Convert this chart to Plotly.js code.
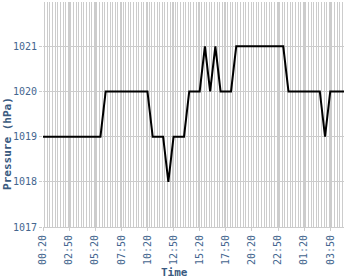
<!DOCTYPE html>
<html>
<head>
<meta charset="utf-8">
<script src="https://cdn.plot.ly/plotly-3.0.1.min.js"></script>
<style>
html,body{margin:0;padding:0;background:#fff;}
#chart{width:350px;height:280px;}
</style>
</head>
<body>
<div id="chart"></div>
<script>
// Half-hourly readings, 00:20 day 1 through 05:20 day 2
const times = [
 "00:20","00:50","01:20","01:50","02:20","02:50","03:20","03:50","04:20","04:50",
 "05:20","05:50","06:20","06:50","07:20","07:50","08:20","08:50","09:20","09:50",
 "10:20","10:50","11:20","11:50","12:20","12:50","13:20","13:50","14:20","14:50",
 "15:20","15:50","16:20","16:50","17:20","17:50","18:20","18:50","19:20","19:50",
 "20:20","20:50","21:20","21:50","22:20","22:50","23:20","23:50","00:20","00:50",
 "01:20","01:50","02:20","02:50","03:20","03:50","04:20","04:50","05:20"
];
const pressure = [
 1019,1019,1019,1019,1019,1019,1019,1019,1019,1019,
 1019,1019,1020,1020,1020,1020,1020,1020,1020,1020,
 1020,1019,1019,1019,1018,1019,1019,1019,1020,1020,
 1020,1021,1020,1021,1020,1020,1020,1021,1021,1021,
 1021,1021,1021,1021,1021,1021,1021,1020,1020,1020,
 1020,1020,1020,1020,1019,1020,1020,1020,1020
];
const xTitle = "Time";
const yTitle = "Pressure (hPa)";

// convert clock times to full date-times (roll over at midnight)
let day = 1, prev = -1;
const xs = times.map(t => {
  const [h, m] = t.split(":").map(Number);
  const mins = h * 60 + m;
  if (mins < prev) day++;
  prev = mins;
  return `2024-01-0${day} ${t}`;
});

const mono = "DejaVu Sans Mono, monospace";
const grid = "#cccccc";

Plotly.newPlot("chart", [{
  x: xs, y: pressure, type: "scatter", mode: "lines",
  line: {color: "#000000", width: 2}, hoverinfo: "skip"
}], {
  width: 350, height: 280,
  margin: {l: 43, r: 6, t: 2, b: 53},
  paper_bgcolor: "#ffffff", plot_bgcolor: "#ffffff",
  showlegend: false,
  font: {family: mono, size: 10, color: "#44668f"},
  xaxis: {
    type: "date",
    range: ["2024-01-01 00:20", "2024-01-02 05:09"],
    tick0: "2024-01-01 00:20", dtick: 150 * 60000,
    tickformat: "%H:%M", tickangle: -90,
    showgrid: true, gridcolor: grid, gridwidth: 1,
    ticks: "outside", ticklen: 3, tickcolor: grid,
    minor: {dtick: 15 * 60000, showgrid: true, gridcolor: grid, gridwidth: 1, ticks: ""},
    showline: true, linecolor: grid, linewidth: 1,
    zeroline: false, fixedrange: true,
    tickfont: {family: mono, size: 10, color: "#44668f"}
  },
  yaxis: {
    range: [1017, 1021.98], dtick: 1, tick0: 1017,
    showgrid: true, gridcolor: grid, gridwidth: 1,
    ticks: "outside", ticklen: 3, tickcolor: grid,
    zeroline: false, showline: false, fixedrange: true,
    tickfont: {family: mono, size: 10, color: "#44668f"}
  },
  annotations: [
    {text: "<b>" + xTitle + "</b>", xref: "paper", yref: "paper",
     x: 0.4385, y: -0.2, xanchor: "center", yanchor: "middle", showarrow: false,
     font: {family: mono, size: 11, color: "#3a5a80"}},
    {text: "<b>" + yTitle + "</b>", xref: "paper", yref: "paper",
     x: -0.12, y: 0.373, xanchor: "center", yanchor: "middle", showarrow: false,
     textangle: -90, font: {family: mono, size: 11, color: "#3a5a80"}}
  ]
}, {displayModeBar: false, staticPlot: true});
</script>
</body>
</html>
